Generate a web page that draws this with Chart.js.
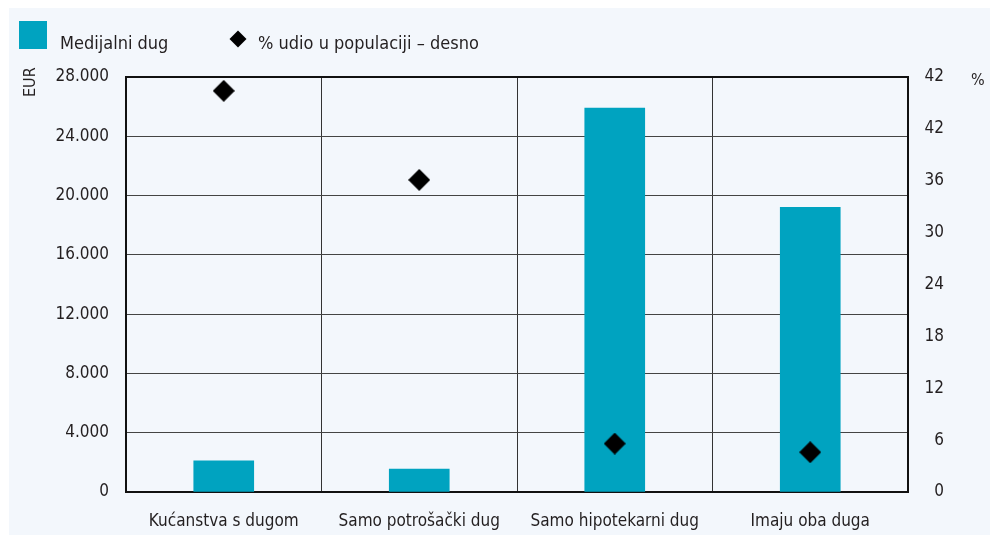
<!DOCTYPE html>
<html>
<head>
<meta charset="utf-8">
<script src="https://cdn.jsdelivr.net/npm/chart.js@4/dist/chart.umd.min.js"></script>
<style>
  html,body{margin:0;padding:0;background:#fff;}
  #panel{position:absolute;left:9px;top:8px;width:981px;height:527px;background:#f3f7fc;}
  #wrap{position:absolute;left:0;top:0;width:990px;height:535px;}
  .lg{position:absolute;font-family:"Liberation Sans Narrow","DejaVu Sans Condensed",sans-serif;font-size:18px;color:#231f20;}
  #sw{position:absolute;left:19px;top:21px;width:28px;height:28px;background:#00a3c0;}
  #dia{position:absolute;left:232px;top:33px;width:12px;height:12px;background:#000;transform:rotate(45deg);}
</style>
</head>
<body>
<div id="panel"></div>
<div id="wrap"><canvas id="c" width="990" height="535"></canvas></div>
<div id="sw"></div>
<div class="lg" style="left:60px;top:32px;">Medijalni dug</div>
<div id="dia"></div>
<div class="lg" style="left:258px;top:32px;">% udio u populaciji – desno</div>
<div class="lg" style="left:20px;transform:rotate(-90deg);transform-origin:left top;top:97px;font-size:16px;">EUR</div>
<div class="lg" style="left:971px;top:70px;font-size:16px;">%</div>
<script>
// Median debt (EUR, left axis) and share of population (%, right axis)
const CATEGORIES = ['Kućanstva s dugom','Samo potrošački dug','Samo hipotekarni dug','Imaju oba duga'];
const MEDIAN_DEBT = [2100, 1550, 25900, 19200];
const POP_SHARE = [46.4, 36.1, 5.6, 4.6];
const LEFT_TICKS = ['0','4.000','8.000','12.000','16.000','20.000','24.000','28.000'];
// right axis as printed (top label reads 42 in the source)
const RIGHT_TICKS = ['0','6','12','18','24','30','36','42','42'];

const FONT = {family:'"Liberation Sans Narrow","DejaVu Sans Condensed",sans-serif', size:17};
const INK = '#231f20';

// filled black diamond marker
function diamond(w,h){
  const c=document.createElement('canvas'); c.width=w; c.height=h;
  const g=c.getContext('2d'); g.fillStyle='#000';
  g.beginPath(); g.moveTo(w/2,0); g.lineTo(w,h/2); g.lineTo(w/2,h); g.lineTo(0,h/2); g.closePath(); g.fill();
  return c;
}
const marker=diamond(22,22);

new Chart(document.getElementById('c'),{
  data:{
    labels:CATEGORIES,
    datasets:[
      {type:'scatter',data:POP_SHARE.map((v,i)=>({x:CATEGORIES[i],y:v})),yAxisID:'y1',
       pointStyle:marker,pointRadius:11,order:0},
      {type:'bar',data:MEDIAN_DEBT,yAxisID:'y',backgroundColor:'#00a3c0',barThickness:60,order:1}
    ]
  },
  options:{
    responsive:false,animation:false,
    layout:{padding:{left:0,right:46,top:77,bottom:0}},
    plugins:{legend:{display:false},tooltip:{enabled:false}},
    scales:{
      x:{type:'category',offset:true,
         grid:{offset:true,drawTicks:false,color:c=>(c.index===0||c.index===4)?'#111':'#333',lineWidth:c=>(c.index===0||c.index===4)?2:1},
         border:{display:true,color:'#111',width:2},
         ticks:{color:INK,font:FONT,padding:19,maxRotation:0},
         afterFit:s=>{s.height=43;}},
      y:{position:'left',min:0,max:28000,
         ticks:{stepSize:4000,color:INK,font:FONT,padding:17,callback:(v,i)=>LEFT_TICKS[i]},
         grid:{drawTicks:false,color:c=>c.tick&&c.tick.value===28000?'#111':'#444',lineWidth:c=>c.tick&&c.tick.value===28000?2:1},
         border:{display:true,color:'#111',width:2},
         afterFit:s=>{s.width=126;}},
      y1:{position:'right',min:0,max:48,
         ticks:{stepSize:6,color:INK,font:FONT,padding:16,crossAlign:'far',callback:(v,i)=>RIGHT_TICKS[i]},
         grid:{display:false,drawTicks:false},
         border:{display:true,color:'#111',width:2},
         afterFit:s=>{s.width=36;}}
    }
  }
});
</script>
</body>
</html>
